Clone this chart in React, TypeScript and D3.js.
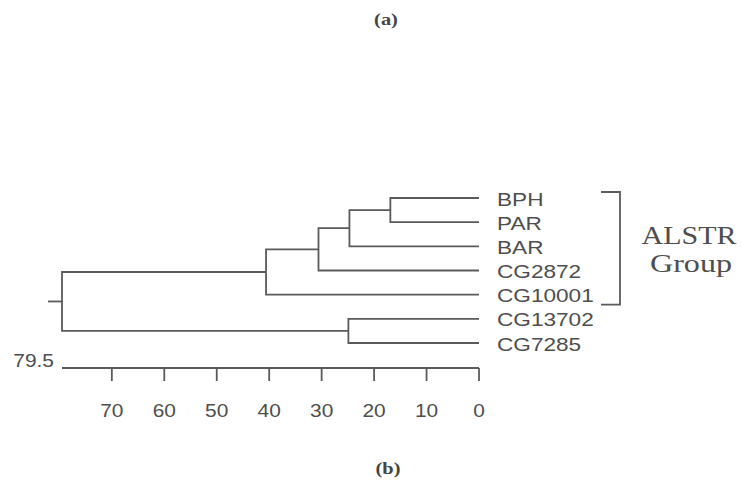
import React from "react";
import * as d3 from "d3";

// Leaves (top to bottom)
const leaves = ["BPH", "PAR", "BAR", "CG2872", "CG10001", "CG13702", "CG7285"];
// Linkage: cluster ids 0..6 are leaves, 7.. are merges in order
const mergeA = [0, 7, 8, 9, 5, 10];
const mergeB = [1, 2, 3, 4, 6, 11];
const mergeHeight = [16.9, 24.7, 30.6, 40.6, 24.9, 79.5];
const tickValues = [70, 60, 50, 40, 30, 20, 10, 0];
const axisMaxLabel = "79.5";
const groupLabel = ["ALSTR", "Group"];
const groupMembers = ["BPH", "CG10001"];

const W = 742;
const H = 485;
const ink = "#5a5a5a";
const textInk = "#4e4e4e";
const sans = "'Liberation Sans', Arial, Helvetica, sans-serif";
const serif = "'Liberation Serif', 'Times New Roman', serif";

export default function App() {
  const x = d3.scaleLinear().domain([0, 79.5]).range([479, 62]);
  const y = d3.scalePoint<string>().domain(leaves).range([198, 343]);

  const nodes: { x: number; y: number; h: number }[] = leaves.map((l) => ({
    x: x(0),
    y: y(l) as number,
    h: 0,
  }));
  const paths: string[] = [];
  mergeA.forEach((a, i) => {
    const b = mergeB[i];
    const h = mergeHeight[i];
    const na = nodes[a];
    const nb = nodes[b];
    const nx = x(h);
    const p = d3.path();
    p.moveTo(na.x, na.y);
    p.lineTo(nx, na.y);
    p.lineTo(nx, nb.y);
    p.lineTo(nb.x, nb.y);
    paths.push(p.toString());
    nodes.push({ x: nx, y: (na.y + nb.y) / 2, h });
  });
  const root = nodes[nodes.length - 1];

  const axisY = 368;
  const tickLen = 13;

  const gTop = (y(groupMembers[0]) as number) - 6;
  const gBot = (y(groupMembers[1]) as number) + 10;
  const bx = 620;

  return (
    <svg
      width={W}
      height={H}
      style={{ position: "absolute", left: 0, top: 0, background: "#fff" }}
    >
      <rect width={W} height={H} fill="#fff" />
      <text
        transform="translate(386,25) scale(1.2,1)"
        textAnchor="middle"
        fontFamily={serif}
        fontWeight="bold"
        fontSize={17}
        fill="#444"
      >
        (a)
      </text>
      <text
        transform="translate(388,474) scale(1.2,1)"
        textAnchor="middle"
        fontFamily={serif}
        fontWeight="bold"
        fontSize={17}
        fill="#444"
      >
        (b)
      </text>

      {/* dendrogram */}
      <g fill="none" stroke={ink} strokeWidth={1.8}>
        {paths.map((d, i) => (
          <path key={i} d={d} />
        ))}
        <line x1={root.x - 14} x2={root.x} y1={root.y} y2={root.y} />
      </g>

      {/* leaf labels */}
      {leaves.map((l) => (
        <text
          key={l}
          transform={`translate(497,${(y(l) as number) + 7.5}) scale(1.19,1)`}
          fontFamily={sans}
          fontSize={19}
          fill={textInk}
        >
          {l}
        </text>
      ))}

      {/* axis */}
      <g stroke={ink} strokeWidth={1.8}>
        <line x1={x(79.5)} x2={x(0)} y1={axisY} y2={axisY} />
        {tickValues.map((t) => (
          <line key={t} x1={x(t)} x2={x(t)} y1={axisY} y2={axisY + tickLen} />
        ))}
      </g>
      {tickValues.map((t) => (
        <text
          key={t}
          transform={`translate(${x(t)},417) scale(1.1,1)`}
          textAnchor="middle"
          fontFamily={sans}
          fontSize={19}
          fill={textInk}
        >
          {t}
        </text>
      ))}
      <text
        transform={`translate(54,367) scale(1.1,1)`}
        textAnchor="end"
        fontFamily={sans}
        fontSize={19}
        fill={textInk}
      >
        {axisMaxLabel}
      </text>

      {/* group bracket */}
      <path
        d={`M${bx - 19},${gTop}H${bx}V${gBot}H${bx - 19}`}
        fill="none"
        stroke={ink}
        strokeWidth={1.8}
      />
      <text
        x={689}
        y={244}
        textAnchor="middle"
        fontFamily={serif}
        fontSize={25}
        fill={textInk}
        textLength={95}
        lengthAdjust="spacingAndGlyphs"
      >
        {groupLabel[0]}
      </text>
      <text
        x={691}
        y={272}
        textAnchor="middle"
        fontFamily={serif}
        fontSize={25}
        fill={textInk}
        textLength={82}
        lengthAdjust="spacingAndGlyphs"
      >
        {groupLabel[1]}
      </text>
    </svg>
  );
}
